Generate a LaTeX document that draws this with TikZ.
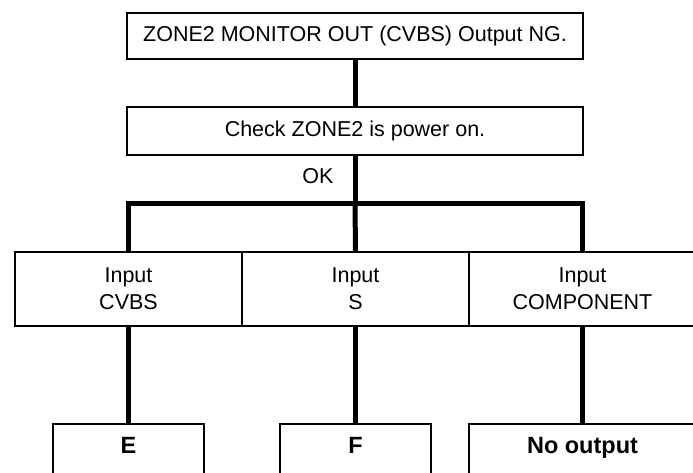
\documentclass[tikz,border=0pt]{standalone}
\usepackage{fontspec}
\setmainfont{Liberation Sans}
\begin{document}
\begin{tikzpicture}[x=1pt,y=-1pt,
  box/.style={draw,line width=1.8pt,rectangle,inner sep=0pt,align=center,
    font=\fontsize{21.5}{27}\selectfont},
  resbox/.style={draw,line width=1.8pt,rectangle,anchor=north,inner xsep=0pt,
    inner ysep=14pt,text height=16pt,text depth=50pt,
    font=\fontsize{23.5}{26}\selectfont\bfseries},
  wire/.style={line width=5pt,line join=miter},
  lbl/.style={inner sep=0pt,font=\fontsize{21.5}{24}\selectfont}]
\useasboundingbox (0,0) rectangle (693,473);
\node[box,minimum width=456pt,minimum height=46pt] (top) at (355,36) {ZONE2 MONITOR OUT (CVBS) Output NG.};
\node[box,minimum width=456pt,minimum height=48pt] (check) at (355,131) {Check ZONE2 is power on.};
\node[box,minimum width=227pt,minimum height=74pt] (in1) at (128.5,289) {Input\\CVBS};
\node[box,minimum width=227pt,minimum height=74pt] (in2) at (355.5,289) {Input\\S};
\node[box,minimum width=227pt,minimum height=74pt] (in3) at (582.5,289) {Input\\COMPONENT};
\node[resbox,minimum width=151pt] (e) at (128.5,423) {E};
\node[resbox,minimum width=151pt] (f) at (355.5,423) {F};
\node[resbox,minimum width=227pt] (no) at (582.5,423) {No output};
\node[lbl] (ok) at (318,176.5) {OK};
\coordinate (bar) at (355,204);
\draw[wire] (top.south) -- (check.north);
\draw[wire] (check.south) -- (bar);
\draw[wire] (in1.north) -- (in1.north |- bar) -- (in3.north |- bar) -- (in3.north);
\draw[wire] (bar) -- (in2.north);
\draw[wire] (in1.south) -- (e.north);
\draw[wire] (in2.south) -- (f.north);
\draw[wire] (in3.south) -- (no.north);
\end{tikzpicture}
\end{document}
